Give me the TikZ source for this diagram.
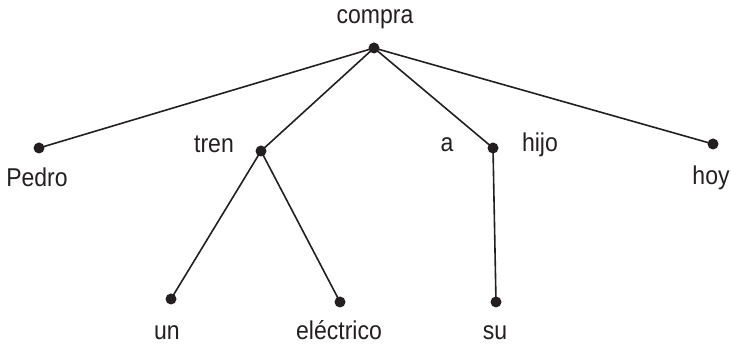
\documentclass[tikz,border=0pt]{standalone}
\usepackage{fontspec}
\setmainfont{Liberation Sans}
\definecolor{ink}{RGB}{35,31,32}
\newcommand{\tallword}[1]{\scalebox{1}[1.12]{#1}}
\begin{document}
\begin{tikzpicture}[x=1pt,y=-1pt,
  dot/.style={circle,fill=ink,draw=none,inner sep=0pt,minimum size=11pt},
  word/.style={font=\fontsize{23}{27}\selectfont,text=ink,inner sep=0pt,anchor=base},
  edge/.style={line width=1.6pt,draw=ink}]
\useasboundingbox (0,0) rectangle (731,344);

% tree vertices
\node[dot] (compra) at (374,48) {};
\node[dot] (pedro) at (39,148) {};
\node[dot] (tren) at (261,151) {};
\node[dot] (hijo) at (493,148) {};
\node[dot] (hoy) at (713,144) {};
\node[dot] (un) at (171,299) {};
\node[dot] (electrico) at (340,302) {};
\node[dot] (su) at (496,302) {};

% dependency edges
\draw[edge] (compra.center) -- (pedro.center);
\draw[edge] (compra.center) -- (tren.center);
\draw[edge] (compra.center) -- (hijo.center);
\draw[edge] (compra.center) -- (hoy.center);
\draw[edge] (tren.center) -- (un.center);
\draw[edge] (tren.center) -- (electrico.center);
\draw[edge] (hijo.center) -- (su.center);

% word labels
\node[word] (lcompra) at (375,24) {\tallword{compra}};
\node[word] (lpedro) at (37,187) {\tallword{Pedro}};
\node[word] (ltren) at (214,153) {\tallword{tren}};
\node[word] (la) at (447,152) {\tallword{a}};
\node[word] (lhijo) at (540,152) {\tallword{hijo}};
\node[word] (lhoy) at (711,185) {\tallword{hoy}};
\node[word] (lun) at (167,340) {\tallword{un}};
\node[word] (lelectrico) at (339,340) {\tallword{eléctrico}};
\node[word] (lsu) at (495,340) {\tallword{su}};
\end{tikzpicture}
\end{document}
